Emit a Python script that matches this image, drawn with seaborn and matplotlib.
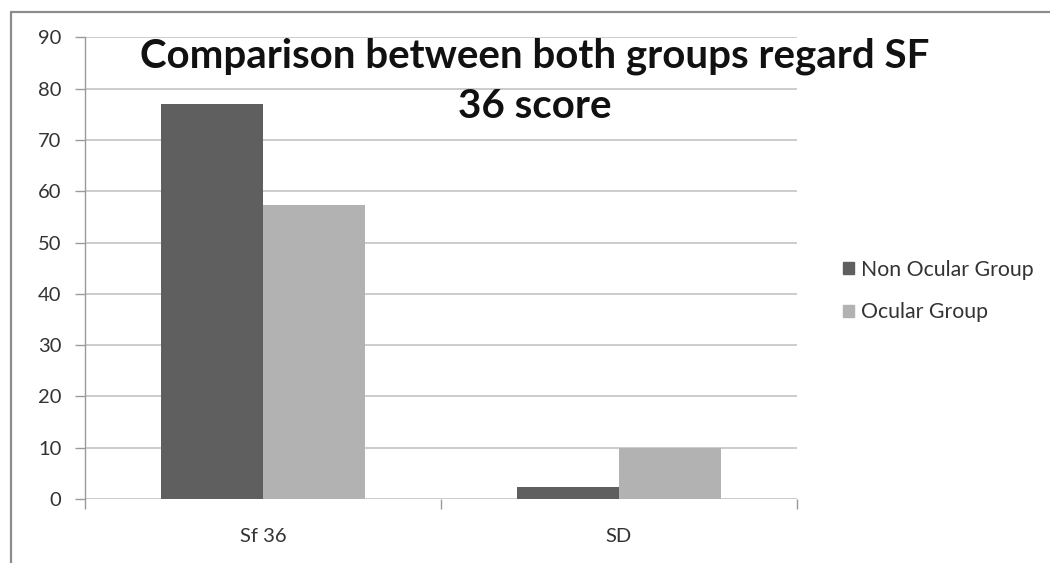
import matplotlib
matplotlib.use("Agg")
import matplotlib.pyplot as plt
from matplotlib.lines import Line2D
import seaborn as sns
import pandas as pd

categories = ["Sf 36", "SD"]
groups = ["Non Ocular Group", "Ocular Group"]
non_ocular = [77.0, 2.4]
ocular = [57.3, 10.0]
colors = ["#5f5f5f", "#b2b2b2"]
title = "Comparison between both groups regard SF\n36 score"

df = pd.DataFrame({
    "measure": categories * 2,
    "group": [groups[0]] * 2 + [groups[1]] * 2,
    "value": non_ocular + ocular,
})

sns.set_theme(style="white")
plt.rcParams["font.family"] = ["Lato", "DejaVu Sans"]

fig = plt.figure(figsize=(10.5, 5.63), dpi=100)
ax = fig.add_axes([0.081, 0.1137, 0.678, 0.8197])

sns.barplot(data=df, x="measure", y="value", hue="group", order=categories,
            hue_order=groups, palette=colors, width=0.573, gap=0,
            saturation=1, linewidth=0, errorbar=None, legend=False, ax=ax)

ax.set_xlim(-0.5, 1.5)
ax.set_ylim(0, 90)
ax.set_yticks(range(0, 91, 10))
ax.yaxis.grid(True, color="#c4c4c4", linewidth=1.2)
ax.set_axisbelow(True)
ax.set_xlabel("")
ax.set_ylabel("")

for side in ("top", "right", "bottom"):
    ax.spines[side].set_visible(False)
ax.spines["left"].set_color("#9a9a9a")
ax.spines["left"].set_linewidth(1.0)

ax.tick_params(axis="y", length=7, width=1, color="#9a9a9a", pad=10,
               labelsize=14.5, labelcolor="#333333", left=True)
ax.set_xticks([0, 1])
ax.set_xticklabels(categories)
ax.set_xticks([-0.5, 0.5, 1.5], minor=True)
ax.tick_params(axis="x", which="major", length=0, pad=21, labelsize=14.5,
               labelcolor="#333333")
ax.tick_params(axis="x", which="minor", length=7, width=1, color="#9a9a9a",
               bottom=True)

ax.text(0.632, 1.0, title, transform=ax.transAxes, ha="center", va="top",
        fontsize=29, fontweight="bold", color="#111111", linespacing=1.45)

handles = [plt.Rectangle((0, 0), 1, 1, color=c) for c in colors]
fig.legend(handles, groups, loc="center left", bbox_to_anchor=(0.803, 0.483),
           frameon=False, fontsize=15.3, handlelength=0.5, handleheight=0.5,
           handletextpad=0.35, labelspacing=1.05, labelcolor="#333333",
           borderpad=0, borderaxespad=0)

# outer frame edges
fig.add_artist(Line2D([0.0105, 0.0105], [0.0, 0.979], transform=fig.transFigure,
                      color="#8c8c8c", linewidth=1.6))
fig.add_artist(Line2D([0.0105, 1.0], [0.979, 0.979], transform=fig.transFigure,
                      color="#8c8c8c", linewidth=1.6))

fig.savefig("out.png", dpi=100)
